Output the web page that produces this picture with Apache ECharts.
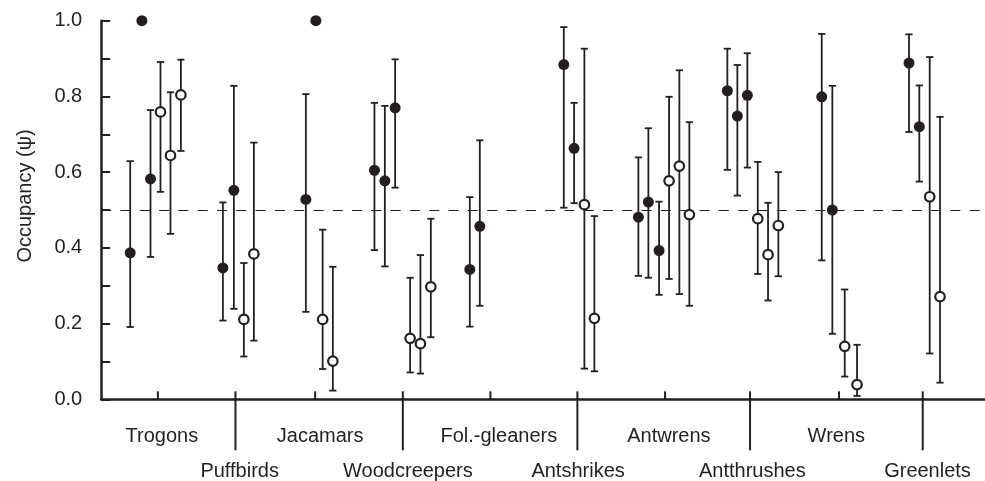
<!DOCTYPE html>
<html>
<head>
<meta charset="utf-8">
<script src="https://cdn.jsdelivr.net/npm/echarts@6/dist/echarts.min.js"></script>
<style>
  html, body { margin: 0; padding: 0; background: #ffffff; }
  #chart { width: 985px; height: 481px; }
</style>
</head>
<body>
<div id="chart"></div>
<script>
// ---------------- DATA ----------------
// Bird groups (alternating label rows under the axis)
const groupNames = ['Trogons', 'Puffbirds', 'Jacamars', 'Woodcreepers', 'Fol.-gleaners',
                    'Antshrikes', 'Antwrens', 'Antthrushes', 'Wrens', 'Greenlets'];
// Position of each group's tick along the x scale (data units)
const groupTickX = [5.67, 13.43, 21.4, 30.17, 38.93, 47.63, 56.4, 64.9, 73.8, 82.17];
// Position of each group's label centre along the x scale (data units)
const groupLabelX = [6.07, 13.85, 21.9, 30.68, 39.77, 47.7, 56.78, 65.13, 73.53, 82.65];

// Species estimates: x position (data units), occupancy psi, lower & upper CI, filled marker?
const pointX = [
  2.9, 4.07, 4.93, 5.93, 6.93, 7.97,
  12.17, 13.27, 14.27, 15.27,
  20.47, 21.47, 22.15, 23.17,
  27.33, 28.37, 29.4, 30.9, 31.93, 32.97,
  36.87, 37.87,
  46.27, 47.3, 48.33, 49.33,
  53.73, 54.73, 55.8, 56.8, 57.83, 58.83,
  62.63, 63.63, 64.63, 65.67, 66.7, 67.73,
  72.07, 73.13, 74.37, 75.6,
  80.8, 81.83, 82.87, 83.9
];
const psi = [
  0.387, 1.0, 0.582, 0.759, 0.644, 0.804,
  0.347, 0.552, 0.211, 0.384,
  0.528, 1.0, 0.211, 0.101,
  0.605, 0.577, 0.770, 0.161, 0.147, 0.297,
  0.343, 0.457,
  0.884, 0.663, 0.514, 0.214,
  0.481, 0.521, 0.393, 0.577, 0.616, 0.488,
  0.815, 0.748, 0.803, 0.477, 0.382, 0.459,
  0.799, 0.500, 0.140, 0.039,
  0.888, 0.720, 0.535, 0.271
];
const ciLow = [
  0.191, null, 0.376, 0.548, 0.437, 0.656,
  0.208, 0.239, 0.113, 0.155,
  0.231, null, 0.080, 0.023,
  0.394, 0.351, 0.559, 0.071, 0.068, 0.164,
  0.192, 0.247,
  0.506, 0.518, 0.081, 0.074,
  0.326, 0.321, 0.276, 0.318, 0.278, 0.247,
  0.606, 0.538, 0.612, 0.331, 0.261, 0.325,
  0.367, 0.173, 0.060, 0.009,
  0.706, 0.575, 0.121, 0.044
];
const ciHigh = [
  0.629, null, 0.764, 0.891, 0.811, 0.897,
  0.520, 0.828, 0.360, 0.678,
  0.806, null, 0.448, 0.350,
  0.783, 0.775, 0.898, 0.321, 0.381, 0.477,
  0.534, 0.684,
  0.983, 0.783, 0.926, 0.484,
  0.639, 0.716, 0.522, 0.799, 0.869, 0.732,
  0.926, 0.883, 0.914, 0.627, 0.519, 0.600,
  0.965, 0.828, 0.290, 0.144,
  0.964, 0.829, 0.904, 0.746
];
const isFilled = [
  1, 1, 1, 0, 0, 0,
  1, 1, 0, 0,
  1, 1, 0, 0,
  1, 1, 1, 0, 0, 0,
  1, 1,
  1, 1, 0, 0,
  1, 1, 1, 0, 0, 0,
  1, 1, 1, 0, 0, 0,
  1, 1, 0, 0,
  1, 1, 0, 0
];
const yTicks = [0, 0.1, 0.2, 0.3, 0.4, 0.5, 0.6, 0.7, 0.8, 0.9, 1.0];
const referenceLine = 0.5;

// ---------------- BUILD ----------------
const INK = '#231f20';
const FONT = 'Liberation Sans, Arial, Helvetica, sans-serif';

const errData = [];
const filledData = [];
const openData = [];
pointX.forEach((x, i) => {
  if (ciLow[i] != null && ciHigh[i] != null) errData.push([x, ciLow[i], ciHigh[i]]);
  (isFilled[i] ? filledData : openData).push([x, psi[i]]);
});
const tickData = groupTickX.map((x, i) => [x, i % 2]);
const labelData = groupLabelX.map((x, i) => [x, i % 2, groupNames[i]]);

const chart = echarts.init(document.getElementById('chart'), null, { renderer: 'canvas' });

chart.setOption({
  animation: false,
  backgroundColor: '#ffffff',
  grid: { left: 101.2, right: 0, top: 20.7, bottom: 81.7, containLabel: false },
  xAxis: {
    type: 'value', min: 0, max: 88.4,
    axisLine: { show: true, onZero: false, lineStyle: { color: INK, width: 2.5 } },
    axisTick: { show: false }, axisLabel: { show: false }, splitLine: { show: false }
  },
  yAxis: {
    type: 'value', min: yTicks[0], max: yTicks[yTicks.length - 1], interval: 0.1,
    name: 'Occupancy (\u03c8)', nameLocation: 'middle', nameGap: 66,
    nameTextStyle: { color: INK, fontSize: 20, fontFamily: FONT, padding: [0, 0, 0, 28] },
    axisLine: { show: true, lineStyle: { color: INK, width: 2.5 } },
    axisTick: { show: true, inside: true, length: 9, lineStyle: { color: INK, width: 2 } },
    axisLabel: {
      color: INK, fontSize: 20, fontFamily: FONT, margin: 19,
      formatter: v => (Math.round(v * 10) % 2 === 0 ? v.toFixed(1) : '')
    },
    splitLine: { show: false }
  },
  series: [
    {
      type: 'custom', name: 'ci', clip: false, silent: true, z: 2,
      data: errData,
      renderItem: (params, api) => {
        const lo = api.coord([api.value(0), api.value(1)]);
        const hi = api.coord([api.value(0), api.value(2)]);
        const hw = 3.6;
        const style = { stroke: INK, lineWidth: 1.8, fill: null };
        return {
          type: 'group',
          children: [
            { type: 'line', shape: { x1: lo[0], y1: lo[1], x2: hi[0], y2: hi[1] }, style },
            { type: 'line', shape: { x1: lo[0] - hw, y1: lo[1], x2: lo[0] + hw, y2: lo[1] }, style },
            { type: 'line', shape: { x1: hi[0] - hw, y1: hi[1], x2: hi[0] + hw, y2: hi[1] }, style }
          ]
        };
      },
      markLine: {
        silent: true, symbol: ['none', 'none'], label: { show: false },
        lineStyle: { color: INK, width: 1, type: [10, 9.3] },
        data: [{ yAxis: referenceLine }]
      }
    },
    {
      type: 'scatter', name: 'filled', clip: false, silent: true, z: 4,
      symbol: 'circle', symbolSize: 11,
      itemStyle: { color: INK, borderWidth: 0, opacity: 1 },
      data: filledData
    },
    {
      type: 'scatter', name: 'open', clip: false, silent: true, z: 4,
      symbol: 'circle', symbolSize: 9.5,
      itemStyle: { color: '#ffffff', borderColor: INK, borderWidth: 2.2, opacity: 1 },
      data: openData
    },
    {
      type: 'custom', name: 'groupTicks', clip: false, silent: true, z: 3,
      data: tickData,
      renderItem: (params, api) => {
        const p = api.coord([api.value(0), 0]);
        const long = api.value(1) === 1;
        return {
          type: 'line',
          shape: { x1: p[0], y1: p[1] - 8, x2: p[0], y2: long ? p[1] + 51 : p[1] },
          style: { stroke: INK, lineWidth: 2 }
        };
      }
    },
    {
      type: 'custom', name: 'groupLabels', clip: false, silent: true, z: 3,
      data: labelData,
      dimensions: ['x', 'row', 'name'],
      renderItem: (params, api) => {
        const p = api.coord([api.value(0), 0]);
        const row = api.value(1);
        return {
          type: 'text',
          x: p[0], y: p[1] + (row === 1 ? 72 : 37),
          style: {
            text: labelData[params.dataIndex][2],
            fill: INK, font: '20px ' + FONT,
            align: 'center', verticalAlign: 'middle'
          }
        };
      }
    }
  ]
});
</script>
</body>
</html>
